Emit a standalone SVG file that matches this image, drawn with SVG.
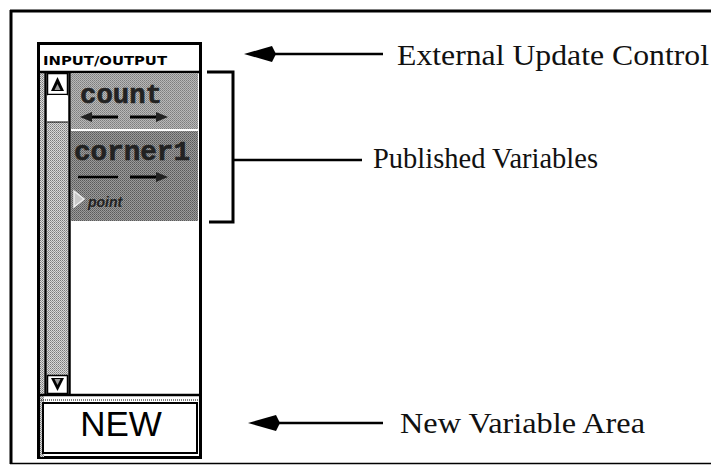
<svg xmlns="http://www.w3.org/2000/svg" width="711" height="466" viewBox="0 0 711 466">
  <style>
    .lbl { font-family: "Liberation Serif", "Times New Roman", serif; font-size: 30px; fill: #111; }
    .ln { stroke: #000; fill: none; }
    .mono { font-family: "Liberation Mono", "Courier New", monospace; font-weight: bold; fill: #222; stroke: #222; stroke-width: 0.6; }
    .hdr { font-family: "DejaVu Sans Condensed", "DejaVu Sans", sans-serif; font-weight: bold; font-size: 13px; fill: #000; }
  </style>
  <defs>
    <pattern id="dither" width="2" height="2" patternUnits="userSpaceOnUse">
      <rect width="2" height="2" fill="#d8d8d8"/>
      <rect width="1" height="1" fill="#7a7a7a"/>
      <rect x="1" y="1" width="1" height="1" fill="#9a9a9a"/>
    </pattern>
    <pattern id="ditherMid" width="2" height="2" patternUnits="userSpaceOnUse">
      <rect width="2" height="2" fill="#b8b8b8"/>
      <rect width="1" height="1" fill="#7e7e7e"/>
      <rect x="1" y="1" width="1" height="1" fill="#8e8e8e"/>
    </pattern>
    <pattern id="ditherDark" width="2" height="2" patternUnits="userSpaceOnUse">
      <rect width="2" height="2" fill="#9a9a9a"/>
      <rect width="1" height="1" fill="#5a5a5a"/>
      <rect x="1" y="1" width="1" height="1" fill="#6e6e6e"/>
    </pattern>
    <marker id="head" viewBox="0 0 32 18" refX="2" refY="9" markerWidth="32" markerHeight="18" markerUnits="userSpaceOnUse" orient="auto">
      <path d="M0,9 L4,1 L32,9 L4,17 Z" fill="#000"/>
    </marker>
    <marker id="small" viewBox="0 0 12 10" refX="2" refY="5" markerWidth="12" markerHeight="10" markerUnits="userSpaceOnUse" orient="auto">
      <path d="M0,0 L12,5 L0,10 Z" fill="#222"/>
    </marker>
  </defs>

  <rect width="711" height="466" fill="#fff"/>

  <!-- page frame -->
  <g id="frame">
    <line x1="10" y1="11" x2="711" y2="11" class="ln" stroke-width="3"/>
    <line x1="11" y1="10" x2="11" y2="464" class="ln" stroke-width="3"/>
    <line x1="10" y1="463.5" x2="711" y2="463.5" class="ln" stroke-width="1.5"/>
  </g>

  <!-- variable panel -->
  <g id="panel">
    <rect x="38.5" y="43.5" width="162" height="414" fill="#fff" stroke="#000" stroke-width="3"/>
    <rect x="40" y="72" width="4" height="385" fill="url(#dither)"/>
    <text class="hdr" x="43" y="65" textLength="124" lengthAdjust="spacingAndGlyphs">INPUT/OUTPUT</text>
    <line x1="40" y1="72" x2="199" y2="72" class="ln" stroke-width="2.5"/>
    <line x1="45.5" y1="72" x2="45.5" y2="396" class="ln" stroke-width="2.5"/>
    <line x1="69.5" y1="72" x2="69.5" y2="396" class="ln" stroke-width="2.5"/>
  </g>

  <g id="scrollbar">
    <rect x="47" y="122" width="21" height="253" fill="url(#dither)"/>
    <rect x="47.5" y="73.5" width="20" height="21" fill="#fff" stroke="#000" stroke-width="1.5"/>
    <path d="M57.5,77 L64,91 L51,91 Z" fill="#000"/>
    <path d="M57.5,84 L60.5,90 L54.5,90 Z" fill="#999"/>
    <rect x="48" y="95" width="19" height="27" fill="#fff"/>
    <line x1="47" y1="122" x2="68" y2="122" class="ln" stroke-width="1"/>
    <rect x="47.5" y="375.5" width="20" height="18" fill="#fff" stroke="#000" stroke-width="1.5"/>
    <path d="M51,378 L64,378 L57.5,391 Z" fill="#000"/>
    <path d="M54.5,379 L60.5,379 L57.5,385 Z" fill="#999"/>
  </g>

  <g id="var-count">
    <rect x="71" y="73" width="127" height="56" fill="url(#ditherMid)"/>
    <text class="mono" x="80" y="103" font-size="27" textLength="82" lengthAdjust="spacingAndGlyphs">count</text>
    <line x1="118" y1="117" x2="90" y2="117" class="ln" stroke="#222" stroke-width="3" marker-end="url(#small)"/>
    <line x1="130" y1="117" x2="158" y2="117" class="ln" stroke="#222" stroke-width="3" marker-end="url(#small)"/>
  </g>

  <g id="var-corner1">
    <rect x="71" y="131" width="127" height="90" fill="url(#ditherDark)"/>
    <text class="mono" x="74" y="160" font-size="27" textLength="116" lengthAdjust="spacingAndGlyphs">corner1</text>
    <line x1="78" y1="177" x2="118" y2="177" class="ln" stroke="#222" stroke-width="2.5"/>
    <line x1="130" y1="177" x2="158" y2="177" class="ln" stroke="#222" stroke-width="3" marker-end="url(#small)"/>
    <path d="M74,191 L84,199 L74,207 Z" fill="#c8c8c8" stroke="#eee" stroke-width="1.5"/>
    <text x="88" y="207" font-family="Liberation Sans, Arial, sans-serif" font-style="italic" font-weight="bold" font-size="14" fill="#222">point</text>
  </g>

  <g id="new-area">
    <line x1="40" y1="395" x2="199" y2="395" class="ln" stroke-width="2.5"/>
    <line x1="41" y1="400" x2="199" y2="400" class="ln" stroke-width="1" stroke-dasharray="1 1"/>
    <rect x="43" y="403" width="154" height="50" fill="#fff" stroke="#000" stroke-width="2"/>
    <text x="121" y="436" text-anchor="middle" font-family="Liberation Sans, Arial, sans-serif" font-size="35" fill="#000">NEW</text>
  </g>

  <!-- callouts -->
  <g id="connectors">
    <line x1="383" y1="54" x2="274" y2="54" class="ln" stroke-width="2.5" marker-end="url(#head)"/>
    <path d="M207,72 H233 V222 H209" class="ln" stroke-width="3"/>
    <line x1="233" y1="160" x2="362" y2="160" class="ln" stroke-width="2.5"/>
    <line x1="383" y1="423" x2="278" y2="423" class="ln" stroke-width="2.5" marker-end="url(#head)"/>
  </g>

  <g id="label-external">
    <text class="lbl" x="397" y="65" textLength="312" lengthAdjust="spacingAndGlyphs">External Update Control</text>
  </g>
  <g id="label-published">
    <text class="lbl" x="373" y="168" textLength="225" lengthAdjust="spacingAndGlyphs">Published Variables</text>
  </g>
  <g id="label-new">
    <text class="lbl" x="400" y="433" textLength="245" lengthAdjust="spacingAndGlyphs">New Variable Area</text>
  </g>
</svg>
